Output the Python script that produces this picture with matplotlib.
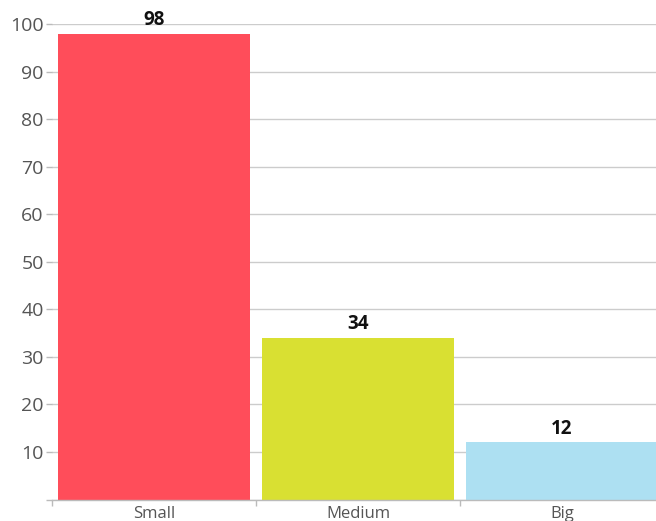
import matplotlib
matplotlib.use("Agg")
import matplotlib.pyplot as plt

categories = ["Small", "Medium", "Big"]
values = [98, 34, 12]
colors = ["#FF4D5A", "#D9E032", "#ADE0F2"]
yticks = [0, 10, 20, 30, 40, 50, 60, 70, 80, 90, 100]
yticklabels = ["", "10", "20", "30", "40", "50", "60", "70", "80", "90", "100"]

plt.rcParams['font.family'] = ['Open Sans', 'DejaVu Sans']

W, H = 656, 521
fig = plt.figure(figsize=(W / 100, H / 100), dpi=100)
left = 52 / W
right = 664 / W
bottom = (H - 499.5) / H
top = (H - 24) / H
ax = fig.add_axes([left, bottom, right - left, top - bottom])

x = list(range(len(categories)))
ax.bar(x, values, width=0.946, color=colors, zorder=3)
ax.set_xlim(-0.5, len(categories) - 0.5)
ax.set_ylim(0, 100)

for xi, v in zip(x, values):
    ax.annotate(str(v), (xi, v), xytext=(0, 2.5), textcoords="offset points",
                ha="center", va="bottom", fontsize=13.5, fontweight="bold",
                color="#111111", zorder=4)

ax.set_yticks(yticks)
ax.set_yticklabels(yticklabels)
ax.yaxis.grid(True, color="#CCCCCC", linewidth=1.0, zorder=0)
ax.tick_params(axis="y", length=4, width=1, color="#BBBBBB", labelsize=14,
               labelcolor="#555555", pad=2)

ax.set_xticks([i - 0.5 for i in range(len(categories) + 1)], minor=False)
ax.set_xticklabels([""] * (len(categories) + 1))
ax.set_xticks(x, minor=True)
ax.set_xticklabels(categories, minor=True)
ax.tick_params(axis="x", which="major", length=4, width=1, color="#BBBBBB")
ax.tick_params(axis="x", which="minor", length=0, labelsize=12,
               labelcolor="#555555", pad=5)

for s in ["top", "right", "left"]:
    ax.spines[s].set_visible(False)
ax.spines["bottom"].set_color("#BBBBBB")
ax.spines["bottom"].set_linewidth(1)
ax.spines["bottom"].set_zorder(5)

fig.savefig("out.png", dpi=100)
